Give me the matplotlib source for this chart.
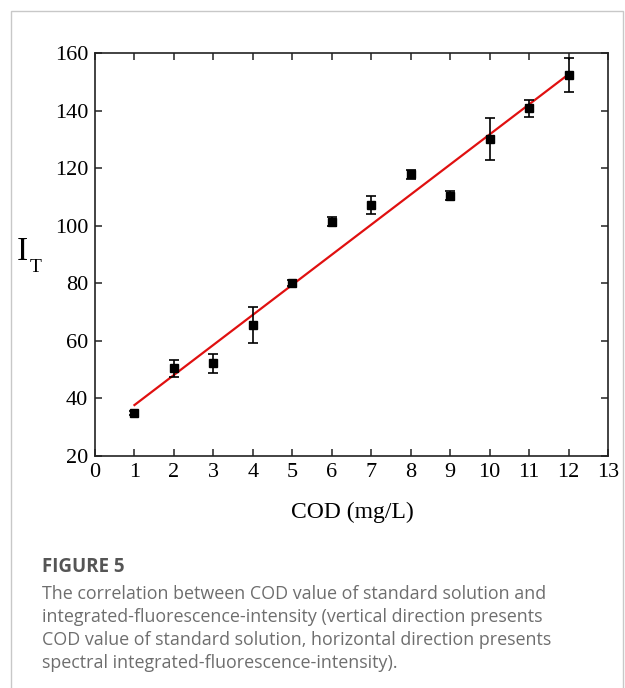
import numpy as np
import matplotlib.pyplot as plt
from matplotlib.patches import Rectangle

# --- data ---
cod = [1, 2, 3, 4, 5, 6, 7, 8, 9, 10, 11, 12]
intensity = [35.0, 50.5, 52.2, 65.6, 80.0, 101.4, 107.2, 117.9, 110.4, 130.1, 140.8, 152.3]
err = [0.8, 3.0, 3.2, 6.3, 1.0, 1.5, 3.0, 1.5, 1.5, 7.3, 3.0, 6.0]
fit_x = [1, 12]
fit_y = [37.7, 152.6]

xticks = list(range(0, 14))
yticks = list(range(20, 161, 20))

caption_title = "FIGURE 5"
caption_lines = [
    "The correlation between COD value of standard solution and",
    "integrated-fluorescence-intensity (vertical direction presents",
    "COD value of standard solution, horizontal direction presents",
    "spectral integrated-fluorescence-intensity).",
]

W, H = 625, 688
fig = plt.figure(figsize=(W / 100, H / 100), dpi=100)

# light frame around the figure panel (bottom runs off the image)
fig.patches.append(Rectangle((11.3 / W, -0.05), (622.7 - 11.3) / W, 1.05 - 11.3 / H,
                             transform=fig.transFigure, fill=False,
                             edgecolor="#c8c8c8", linewidth=1.0))

ax = fig.add_axes([95 / W, (H - 456) / H, (608 - 95) / W, (456 - 53) / H])

ax.plot(fit_x, fit_y, color="#e01010", linewidth=1.6, zorder=2)
ax.errorbar(cod, intensity, yerr=err, fmt="s", color="black", markersize=6.3,
            ecolor="black", elinewidth=1.2, capsize=3.5, capthick=1.2, zorder=3)

ax.set_xlim(0, 13)
ax.set_ylim(20, 160)
ax.set_xticks(xticks)
ax.set_yticks(yticks)

serif = "Liberation Serif"
ax.tick_params(direction="in", length=5, width=1.1, top=True, right=True,
               labelsize=16, pad=5, color="#222222")
for lab in ax.get_xticklabels() + ax.get_yticklabels():
    lab.set_family(serif)
for sp in ax.spines.values():
    sp.set_linewidth(1.2)
    sp.set_color("#222222")

fig.text(352 / W, 1 - 512 / H, "COD (mg/L)", family=serif, fontsize=17,
         ha="center", va="center")
fig.text(22.5 / W, 1 - 252 / H, "I", family=serif, fontsize=24,
         ha="center", va="center")
fig.text(35.5 / W, 1 - 268 / H, "T", family=serif, fontsize=14,
         ha="center", va="center")

# caption
fig.text(42 / W, 1 - 567 / H, caption_title, family="Open Sans", fontsize=13.5,
         fontweight="bold", color="#555555", ha="left", va="center")
line_y = [594, 617, 640, 663]
for txt, yy in zip(caption_lines, line_y):
    fig.text(42 / W, 1 - yy / H, txt, family="Open Sans", fontsize=12.9,
             color="#6e6e6e", ha="left", va="center")

fig.savefig("out.png", dpi=100)
